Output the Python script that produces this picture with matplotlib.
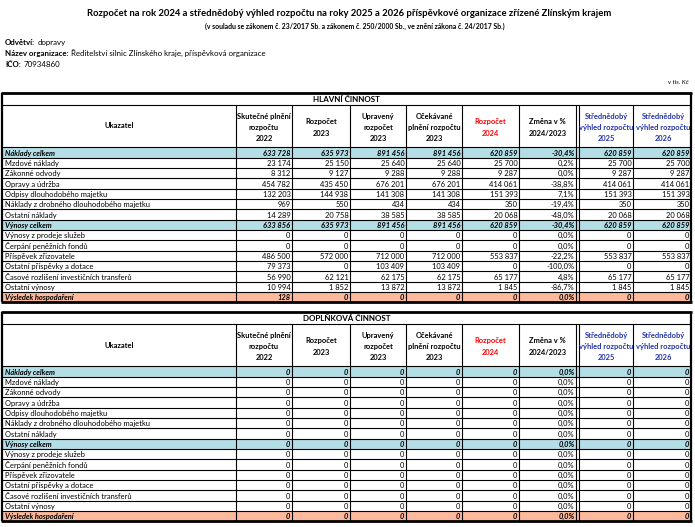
import matplotlib
matplotlib.use("Agg")
import matplotlib.pyplot as plt
from matplotlib.patches import Rectangle

plt.rcParams['font.family'] = ['Lato', 'DejaVu Sans']

# ---------------- data ----------------
title = "Rozpočet na rok 2024 a střednědobý výhled rozpočtu na roky 2025 a 2026 příspěvkové organizace zřízené Zlínským krajem"
subtitle = "(v souladu se zákonem č. 23/2017 Sb. a zákonem č. 250/2000 Sb., ve znění zákona č. 24/2017 Sb.)"
info_keys = ["Odvětví:", "Název organizace:", "IČO:"]
info_vals = ["dopravy", "Ředitelství silnic Zlínského kraje, příspěvková organizace", "70934860"]
unit_note = "v tis. Kč"

section_titles = ["HLAVNÍ ČINNOST", "DOPLŇKOVÁ ČINNOST"]
first_header = "Ukazatel"
col_headers = [
    ["Skutečné plnění", "rozpočtu", "2022"],
    ["Rozpočet", "2023"],
    ["Upravený", "rozpočet", "2023"],
    ["Očekávané", "plnění rozpočtu", "2023"],
    ["Rozpočet", "2024"],
    ["Změna v %", "2024/2023"],
    ["Střednědobý", "výhled rozpočtu", "2025"],
    ["Střednědobý", "výhled rozpočtu", "2026"],
]
header_colors = ["black", "black", "black", "black", "red", "black", "#2233AA", "#2233AA"]

row_labels = [
    "Náklady celkem", "Mzdové náklady", "Zákonné odvody", "Opravy a údržba",
    "Odpisy dlouhodobého majetku", "Náklady z drobného dlouhodobého majetku",
    "Ostatní náklady", "Výnosy celkem", "Výnosy z prodeje služeb",
    "Čerpání peněžních fondů", "Příspěvek zřizovatele",
    "Ostatní příspěvky a dotace", "Časové rozlišení investičních transferů",
    "Ostatní výnosy", "Výsledek hospodaření",
]
row_kind = ["blue", "", "", "", "", "", "", "blue", "", "", "", "", "", "", "salmon"]

# columns: 2022, R2023, U2023, O2023, R2024, change %, S2025, S2026
main_values = [
    [633728, 635973, 891456, 891456, 620859, -30.4, 620859, 620859],
    [23174, 25150, 25640, 25640, 25700, 0.2, 25700, 25700],
    [8312, 9127, 9288, 9288, 9287, 0.0, 9287, 9287],
    [454782, 435450, 676201, 676201, 414061, -38.8, 414061, 414061],
    [132203, 144938, 141308, 141308, 151393, 7.1, 151393, 151393],
    [969, 550, 434, 434, 350, -19.4, 350, 350],
    [14289, 20758, 38585, 38585, 20068, -48.0, 20068, 20068],
    [633856, 635973, 891456, 891456, 620859, -30.4, 620859, 620859],
    [0, 0, 0, 0, 0, 0.0, 0, 0],
    [0, 0, 0, 0, 0, 0.0, 0, 0],
    [486500, 572000, 712000, 712000, 553837, -22.2, 553837, 553837],
    [79373, 0, 103409, 103409, 0, -100.0, 0, 0],
    [56990, 62121, 62175, 62175, 65177, 4.8, 65177, 65177],
    [10994, 1852, 13872, 13872, 1845, -86.7, 1845, 1845],
    [128, 0, 0, 0, 0, 0.0, 0, 0],
]
side_values = [[0, 0, 0, 0, 0, 0.0, 0, 0] for _ in row_labels]
pct_col = 5

# ---------------- layout ----------------
W, H = 695, 527
fig = plt.figure(figsize=(W / 100, H / 100), dpi=100)
ax = fig.add_axes([0, 0, 1, 1])
ax.set_xlim(0, W)
ax.set_ylim(H, 0)
ax.axis('off')

FS = 5.4
BLUE_BG = "#B4DEE6"
SALMON_BG = "#FCB99B"
X = [2, 236, 292, 350, 406, 462, 519, 576, 633, 691]
DBL = 3  # double line gap after change column


def fmt(v, pct):
    if pct:
        return f"{v:.1f}%".replace(".", ",")
    return f"{int(v):,}".replace(",", " ")


ax.text(349, 14, title, ha='center', va='center', fontsize=6.8, fontweight='bold')
ax.text(355, 26, subtitle, ha='center', va='center', fontsize=4.95, fontweight='bold')
fig.canvas.draw()
r = fig.canvas.get_renderer()
for i, (k, v) in enumerate(zip(info_keys, info_vals)):
    y = 42.5 + i * 10.8
    t = ax.text(5, y, k, ha='left', va='center', fontsize=FS + 0.3, fontweight='bold')
    bb = t.get_window_extent(renderer=r)
    ax.text(bb.x1 + 2.5, y, v, ha='left', va='center', fontsize=FS + 0.3)
ax.text(689, 82, unit_note, ha='right', va='center', fontsize=4.6, style='italic')


def hline(y, x0, x1, lw=0.9):
    ax.plot([x0, x1], [y, y], color='black', lw=lw, solid_capstyle='butt')


def vline(x, y0, y1, lw=0.9):
    ax.plot([x, x], [y0, y1], color='black', lw=lw, solid_capstyle='butt')


def draw_table(top, sec_title, values):
    title_bot = top + 11.7
    head_bot = title_bot + 42.6
    rh = 10.33
    n = len(row_labels)
    bottom = head_bot + rh * n
    left, right = X[0], X[-1]

    for i, kind in enumerate(row_kind):
        if kind:
            y0 = head_bot + i * rh
            ax.add_patch(Rectangle((left, y0), right - left, rh,
                                   facecolor=BLUE_BG if kind == "blue" else SALMON_BG,
                                   edgecolor='none', zorder=0))

    ax.text((left + right) / 2, (top + title_bot) / 2 + 0.5, sec_title,
            ha='center', va='center', fontsize=FS + 0.4, fontweight='bold')

    ax.text((X[0] + X[1]) / 2, (title_bot + head_bot) / 2, first_header,
            ha='center', va='center', fontsize=FS, fontweight='bold')
    for j, lines in enumerate(col_headers):
        x0 = X[j + 1] + (DBL if j >= 6 else 0)
        x1 = X[j + 2]
        cx = (x0 + x1) / 2
        if len(lines) == 3:
            ys = [title_bot + 11.5, title_bot + 22.5, title_bot + 33.5]
        else:
            ys = [title_bot + 17, title_bot + 28.5]
        for ln, yy in zip(lines, ys):
            ax.text(cx, yy, ln, ha='center', va='center', fontsize=FS,
                    fontweight='bold', color=header_colors[j])

    for i, lab in enumerate(row_labels):
        yc = head_bot + i * rh + rh / 2 + 0.6
        total = bool(row_kind[i])
        ax.text(5, yc, lab, ha='left', va='center', fontsize=FS,
                fontweight='bold' if total else 'normal',
                style='italic' if total else 'normal')
        for j, v in enumerate(values[i]):
            xr = X[j + 2] - 1.5
            ax.text(xr, yc, fmt(v, j == pct_col), ha='right', va='center',
                    fontsize=FS, fontweight='bold' if total else 'normal',
                    style='italic' if total else 'normal')

    hline(title_bot, left, right, 0.8)
    hline(head_bot, left, right, 0.8)
    for i in range(1, n):
        hline(head_bot + i * rh, left, right, 0.8)
    for x in X[1:-1]:
        vline(x, title_bot, bottom, 0.8)
    vline(X[7] + DBL, title_bot, bottom, 0.8)
    hline(top, left - 1, right + 1, 2.0)
    hline(bottom, left - 1, right + 1, 2.0)
    vline(left, top, bottom, 1.6)
    vline(right, top, bottom, 1.6)


draw_table(93, section_titles[0], main_values)
draw_table(312, section_titles[1], side_values)

fig.savefig("out.png", dpi=100)
